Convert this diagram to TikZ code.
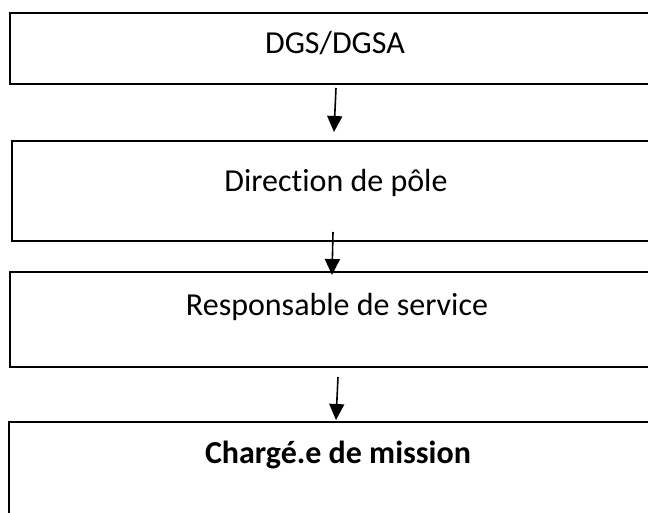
\documentclass[tikz,border=0pt]{standalone}
\usepackage{fontspec}
\setmainfont[Ligatures=NoCommon]{Carlito}
\usetikzlibrary{arrows.meta}
\begin{document}
\begin{tikzpicture}[x=1pt,y=-1pt,
  box/.style={draw, line width=2.8pt, inner sep=0pt, outer sep=0pt, anchor=north west, minimum width=700pt},
  lbl/.style={font=\fontsize{32}{37}\selectfont, anchor=base, inner sep=0pt},
  conn/.style={line width=1.6pt, -{Triangle[width=15pt,length=16pt]}}]
\clip (0,0) rectangle (648,512);
% the four levels of the hierarchy
\node[box, minimum height=71pt]  (b1) at (10,13)  {};
\node[box, minimum height=100pt] (b2) at (12,141) {};
\node[box, minimum height=95pt]  (b3) at (10,272) {};
\node[box, minimum height=130pt] (b4) at (9,422)  {};
% their titles
\node[lbl] (t1) at (335,53)  {DGS/DGSA};
\node[lbl] (t2) at (336,191) {Direction de pôle};
\node[lbl] (t3) at (337,315) {Responsable de service};
\node[lbl, font=\fontsize{32}{37}\selectfont\bfseries] (t4) at (338,463) {Chargé.e de mission};
% arrow ends
\coordinate (s1) at (336,88);  \coordinate (e1) at (334,132);
\coordinate (s2) at (333,232); \coordinate (e2) at (332,275);
\coordinate (s3) at (338,377); \coordinate (e3) at (336,420);
\draw[conn] (s1) -- (e1);
\draw[conn] (s2) -- (e2);
\draw[conn] (s3) -- (e3);
\end{tikzpicture}
\end{document}
